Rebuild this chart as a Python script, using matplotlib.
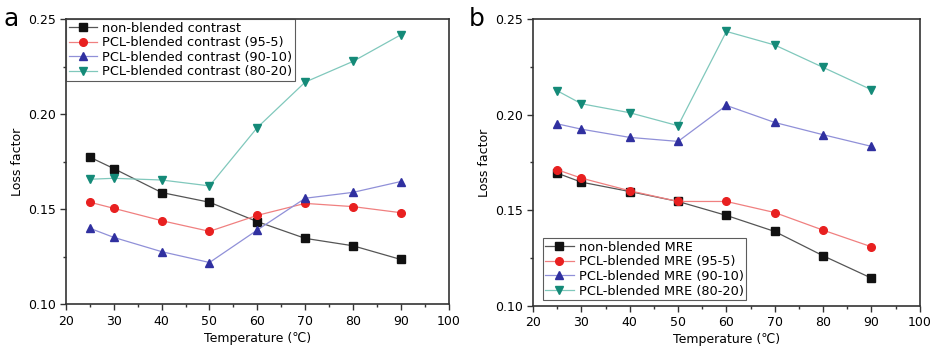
import matplotlib.pyplot as plt
from matplotlib.ticker import MultipleLocator

# temperatures (℃)
temps = [25, 30, 40, 50, 60, 70, 80, 90]

# panel a: contrast samples
a_non = [0.1773, 0.1713, 0.1587, 0.1536, 0.1434, 0.1346, 0.1307, 0.1235]
a_95_5 = [0.1536, 0.1504, 0.1439, 0.1383, 0.1467, 0.1530, 0.1513, 0.1481]
a_90_10 = [0.1399, 0.1351, 0.1276, 0.1219, 0.1390, 0.1557, 0.1588, 0.1645]
a_80_20 = [0.1657, 0.1662, 0.1653, 0.1622, 0.1929, 0.2168, 0.2277, 0.2417]

# panel b: MRE samples
b_non = [0.1694, 0.1647, 0.1598, 0.1546, 0.1473, 0.1389, 0.1262, 0.1145]
b_95_5 = [0.1712, 0.1668, 0.1602, 0.1546, 0.1546, 0.1488, 0.1396, 0.1309]
b_90_10 = [0.1952, 0.1924, 0.1881, 0.1860, 0.2048, 0.1959, 0.1895, 0.1834]
b_80_20 = [0.2125, 0.2057, 0.2010, 0.1942, 0.2435, 0.2364, 0.2247, 0.2130]

labels_a = ["non-blended contrast", "PCL-blended contrast (95-5)",
            "PCL-blended contrast (90-10)", "PCL-blended contrast (80-20)"]
labels_b = ["non-blended MRE", "PCL-blended MRE (95-5)",
            "PCL-blended MRE (90-10)", "PCL-blended MRE (80-20)"]

markers = ["s", "o", "^", "v"]
mcolors = ["#111111", "#e82020", "#3030a0", "#148a78"]
lcolors = ["#555555", "#f08080", "#9090d8", "#80c8bc"]

plt.rcParams["font.family"] = ["DejaVu Sans"]

fig = plt.figure(figsize=(9.31, 3.52), dpi=100)
ax_a = fig.add_axes([0.0709, 0.136, 0.411, 0.810])
ax_b = fig.add_axes([0.5725, 0.131, 0.4155, 0.815])


def draw_panel(ax, series, labels, legend_loc, legend_anchor):
    for ys, lab, m, mc, lc in zip(series, labels, markers, mcolors, lcolors):
        ax.plot(temps, ys, color=lc, linewidth=0.9, marker=m, markersize=5.5,
                markerfacecolor=mc, markeredgecolor=mc, label=lab)
    ax.set_xlim(20, 100)
    ax.set_ylim(0.10, 0.25)
    ax.xaxis.set_major_locator(MultipleLocator(10))
    ax.xaxis.set_minor_locator(MultipleLocator(5))
    ax.yaxis.set_major_locator(MultipleLocator(0.05))
    ax.yaxis.set_minor_locator(MultipleLocator(0.025))
    ax.tick_params(which="both", direction="out", top=False, right=False,
                   labelsize=9, width=1.0, color="#333333")
    ax.tick_params(which="major", length=4)
    ax.tick_params(which="minor", length=2.5)
    ax.set_xlabel("Temperature (℃)", fontsize=9, labelpad=3)
    ax.set_ylabel("Loss factor", fontsize=9, labelpad=3)
    for sp in ax.spines.values():
        sp.set_linewidth(1.2)
        sp.set_color("#333333")
    leg = ax.legend(loc=legend_loc, bbox_to_anchor=legend_anchor, fontsize=9.3,
                    frameon=True, fancybox=False, borderpad=0.2,
                    labelspacing=0.12, handlelength=2.2, handletextpad=0.4,
                    borderaxespad=0)
    leg.get_frame().set_edgecolor("#333333")
    leg.get_frame().set_linewidth(0.8)


draw_panel(ax_a, [a_non, a_95_5, a_90_10, a_80_20], labels_a,
           "upper left", (0.0, 1.0))
draw_panel(ax_b, [b_non, b_95_5, b_90_10, b_80_20], labels_b,
           "lower left", (0.025, 0.02))

fig.text(0.004, 0.925, "a", fontsize=18)
fig.text(0.503, 0.925, "b", fontsize=18)

fig.savefig("out.png", dpi=100)
plt.close(fig)
